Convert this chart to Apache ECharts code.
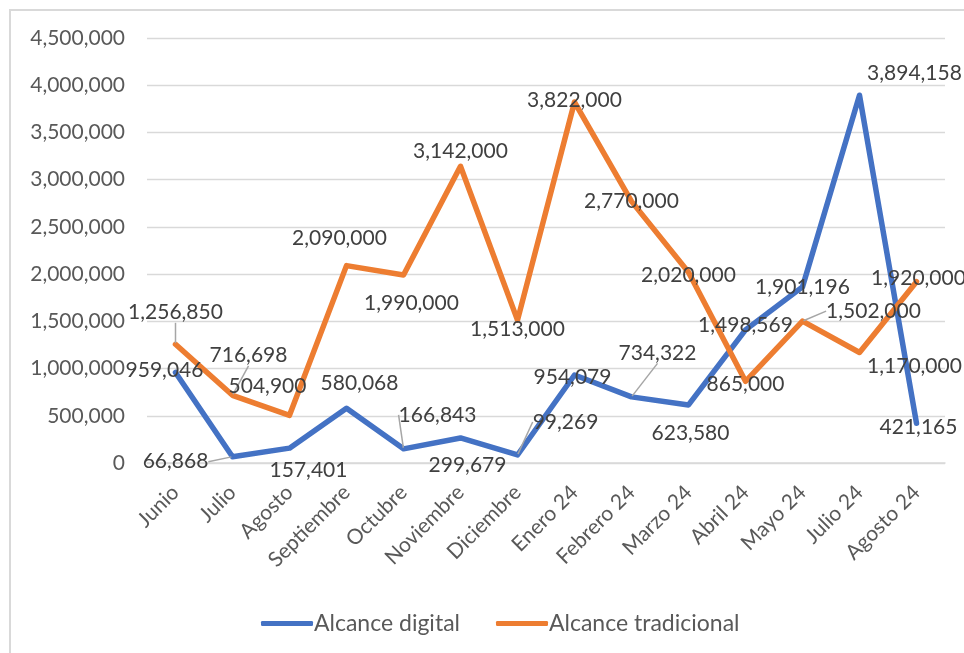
<!DOCTYPE html>
<html>
<head>
<meta charset="utf-8">
<script src="https://cdn.jsdelivr.net/npm/echarts@6/dist/echarts.min.js"></script>
<style>
html,body{margin:0;padding:0;background:#fff;}
#chart{width:964px;height:653px;}
</style>
</head>
<body>
<div id="chart"></div>
<script>
var categories = ["Junio","Julio","Agosto","Septiembre","Octubre","Noviembre","Diciembre","Enero 24","Febrero 24","Marzo 24","Abril 24","Mayo 24","Julio 24","Agosto 24"];
var seriesNames = ["Alcance digital","Alcance tradicional"];
// values as plotted
var digitalValues = [959046, 66868, 157401, 580068, 150000, 265000, 85000, 932000, 700000, 615000, 1410000, 1865000, 3894158, 421165];
var traditionalValues = [1256850, 716698, 504900, 2090000, 1990000, 3142000, 1513000, 3822000, 2770000, 2020000, 865000, 1502000, 1170000, 1920000];
// values as printed in the data labels
var digitalLabels = [959046, 66868, 157401, 580068, 166843, 299679, 99269, 954079, 734322, 623580, 1498569, 1901196, 3894158, 421165];
var traditionalLabels = [1256850, 716698, 504900, 2090000, 1990000, 3142000, 1513000, 3822000, 2770000, 2020000, 865000, 1502000, 1170000, 1920000];
var yTicks = [0, 500000, 1000000, 1500000, 2000000, 2500000, 3000000, 3500000, 4000000, 4500000];

// label layout (offset of label centre from point, leader line flag)
var digitalLabelShift = [[-11,-2,0],[-57,5,1],[19,22,0],[13,-25,0],[34,-34,1],[7,27,0],[48,-33,1],[-2,2,0],[26,-44,1],[2,28,0],[0,-5,0],[0,0,0],[55,-22,0],[2,4,0]];
var traditionalLabelShift = [[0,-32,1],[16,-40,1],[-22,-29,0],[-7,-27,0],[8,28,0],[0,-15,0],[0,9,0],[0,-2,0],[0,0,0],[0,3,0],[0,3,0],[71,-10,1],[55,14,0],[2,-3,0]];

function fmt(v){ return Number(v).toLocaleString('en-US'); }

var FONT = 'Lato, "Open Sans", sans-serif';

function buildData(values, labels, shifts){
  return values.map(function(v,i){
    return {
      value: v,
      labelText: fmt(labels[i]),
      labelLine: {show: !!shifts[i][2]}
    };
  });
}

function makeSeries(name, values, labels, shifts, color){
  return {
    name: name,
    type: 'line',
    data: buildData(values, labels, shifts),
    symbol: 'circle',
    symbolSize: 2,
    itemStyle: {color: color},
    lineStyle: {color: color, width: 5.5, cap: 'round', join: 'round'},
    label: {
      show: true,
      position: 'inside',
      color: '#404040',
      fontFamily: FONT,
      fontSize: 21,
      formatter: function(p){ return p.data.labelText; }
    },
    labelLine: {
      show: true,
      lineStyle: {color: '#a6a6a6', width: 1.5}
    },
    labelLayout: function(p){
      var s = shifts[p.dataIndex];
      return {dx: s[0], dy: s[1]};
    },
    emphasis: {disabled: true},
    animation: false
  };
}

var chart = echarts.init(document.getElementById('chart'), null, {renderer: 'canvas'});
chart.setOption({
  backgroundColor: '#ffffff',
  animation: false,
  graphic: [{
    type: 'rect',
    shape: {x: 10, y: 10, width: 980, height: 680},
    style: {fill: 'none', stroke: '#d9d9d9', lineWidth: 2},
    silent: true
  }],
  grid: {left: 147, right: 19, top: 38, bottom: 190, containLabel: false},
  legend: {
    data: seriesNames,
    left: 256,
    top: 607,
    icon: 'roundRect',
    itemWidth: 52,
    itemHeight: 5,
    itemGap: 36,
    textStyle: {color: '#595959', fontFamily: FONT, fontSize: 23, padding: [0,0,0,-4]}
  },
  xAxis: {
    type: 'category',
    data: categories,
    boundaryGap: true,
    axisLine: {show: true, lineStyle: {color: '#d9d9d9', width: 1.5}},
    axisTick: {show: false},
    axisLabel: {rotate: 45, margin: 26, color: '#595959', fontFamily: FONT, fontSize: 21, interval: 0}
  },
  yAxis: {
    type: 'value',
    min: yTicks[0],
    max: yTicks[yTicks.length-1],
    interval: yTicks[1]-yTicks[0],
    axisLine: {show: false},
    axisTick: {show: false},
    splitLine: {lineStyle: {color: '#d9d9d9', width: 1.3}},
    axisLabel: {margin: 22, color: '#595959', fontFamily: FONT, fontSize: 21, formatter: function(v){ return fmt(v); }}
  },
  series: [
    makeSeries(seriesNames[0], digitalValues, digitalLabels, digitalLabelShift, '#4472C4'),
    makeSeries(seriesNames[1], traditionalValues, traditionalLabels, traditionalLabelShift, '#ED7D31')
  ]
});
</script>
</body>
</html>
